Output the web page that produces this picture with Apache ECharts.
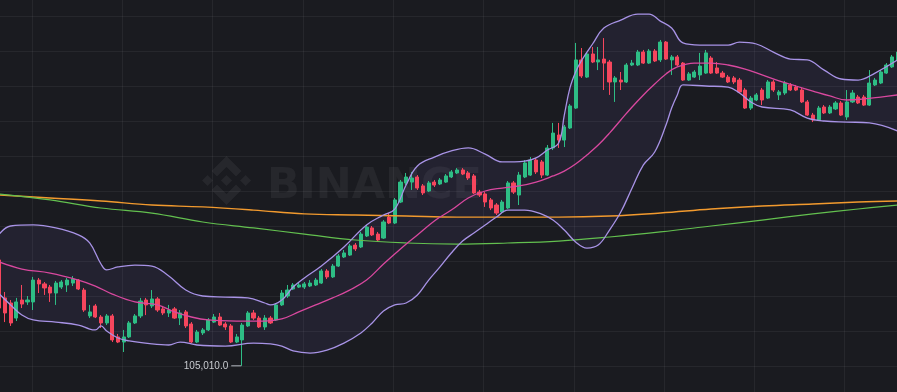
<!DOCTYPE html>
<html><head><meta charset="utf-8">
<script src="https://cdn.jsdelivr.net/npm/echarts@6/dist/echarts.min.js"></script>
<style>html,body{margin:0;padding:0;background:#1a1b20;}#c{width:897px;height:392px;}</style>
</head><body><div id="c"></div>
<script>
// Candle values (USDT)
const opens = [111060,108890,108600,107740,108770,108660,108660,109910,109690,109510,
109170,109510,109630,109740,109910,109340,107860,108430,107800,107460,
107860,106660,106370,106660,107460,107860,108770,108430,108830,108260,
108030,108260,107740,108090,107400,106370,106890,107060,107510,107800,
107400,107290,106370,106490,107290,108030,107740,107230,107740,107630,
108490,109000,109400,109510,109510,109570,109630,109740,110430,110090,
110710,111230,111340,111910,111800,112430,112890,112540,112310,113510,
113170,114370,115460,115510,115800,115290,115000,115510,115400,115510,
115800,116030,116200,116030,115860,114940,114830,114490,114200,113800,
114030,115460,114770,115800,115910,116770,116660,115910,117460,118200,
117910,118600,119740,122490,121510,122830,122370,122540,122370,121230,
121340,121230,122200,122200,122940,122310,123000,122490,123510,122490,
122660,122310,121340,121510,121630,121740,122600,122030,121740,121510,
121460,121340,120770,119740,120200,120770,120310,121230,120490,120600,
121060,120940,120770,120090,119340,119060,119800,119460,119690,120030,
119230,120090,120370,120370,119910,121060,121170,121740,122090,122490];
const closes = [108310,108030,107460,108660,108540,108770,109910,109690,109460,109170,
109740,109800,109910,109970,109400,108200,108090,107800,107460,107860,
106490,106370,106660,107460,107860,108710,108490,108830,108200,108030,
108200,107740,108030,107290,106370,106940,107060,107630,107800,107340,
107230,106370,106660,107340,108030,107740,107230,107740,107460,108490,
109170,109340,109630,109630,109690,109740,109910,110430,110090,110710,
111290,111460,111860,111690,112540,112940,112490,112200,113230,113170,
114490,115510,115800,115740,115170,114890,115460,115340,115630,115860,
116090,116200,115970,115740,114890,114770,114370,114030,113740,114370,
115460,114940,115910,116600,116770,116090,115910,117460,118310,117910,
118660,119860,122490,121570,122830,122370,122490,122310,121230,121460,
121230,122200,122310,122940,122310,123000,122430,123510,122540,122660,
122200,121340,121690,121800,122140,122890,121740,121740,121510,121230,
121230,120660,119740,120310,120490,120200,121230,120770,120660,121170,
120770,120770,120090,119340,119060,119740,119460,119800,120030,119340,
120090,120600,120030,119910,121170,121340,121800,122200,122660,122940];
const highs = [111340,109230,108770,108890,109630,109000,110090,110030,109800,109630,
109860,109910,110030,110140,109970,109460,108490,108540,107910,107970,
107970,106830,107060,107570,107970,108890,108890,109340,108940,108430,
108490,108370,108200,108200,107510,107060,107170,107740,107970,108030,
107510,107400,106830,107460,108140,108200,107860,107910,107860,108600,
109340,109630,109740,109800,109800,109910,110030,110540,110540,110830,
111400,111630,111970,112030,112660,113060,113000,112660,113340,113740,
114600,115630,116030,116090,115910,115400,115570,115630,115740,115970,
116200,116310,116310,116140,115970,115060,114940,114600,114310,114490,
115570,115570,116090,116770,116940,116890,116770,117630,118890,118890,
118770,119970,123460,123170,122940,123230,123230,123740,122490,121570,
121800,122310,122490,123060,123060,123110,123110,123630,123570,122770,
122770,122370,121800,121910,122890,123060,122710,122370,121860,121630,
121570,121460,120890,120430,120600,120890,121340,121340,120770,121290,
121170,121060,120890,120200,119460,119860,119910,119910,120140,120140,
120770,120770,120490,120490,121910,121460,121910,122310,122770,123060];
const lows = [107510,107510,107290,107570,108310,108490,108200,109170,109060,108660,
108490,109400,109230,109570,109340,108090,107740,107740,107170,107340,
106370,106310,105800,106600,107400,107740,107910,108310,108090,107910,
107800,107690,107340,107170,106310,106310,106770,107000,107460,107290,
107060,106310,106310,105010,107230,107630,107170,107060,107400,107570,
108430,108890,109340,109460,109400,109510,109570,109690,109970,110030,
110660,111170,111290,111570,111740,112370,112430,112090,112260,113110,
113110,114310,115340,115060,115060,114770,114940,115230,115340,115460,
115740,115970,115910,115630,114830,114660,114090,113910,113630,113740,
113970,114830,114200,115740,115860,115970,115740,115860,117340,117460,
117510,118540,119690,121460,121460,122310,121910,120770,120490,120090,
120770,121170,122140,122140,122260,122260,122370,122370,122490,121630,
122140,121290,121290,121460,121340,121690,121690,121690,121460,121170,
121110,120600,119690,119630,120140,119910,120260,120660,120200,120490,
120710,120710,120030,119290,118940,119000,119400,119400,119630,119290,
119060,120030,119970,119860,119860,121000,121110,121690,122030,122430];

// Indicator lines: [candle index, value]
const upperBand = [[0,112540],[2,113000],[6,113060],[10,112890],[14,112490],[16,112030],[18,110830],[19,110490],[21,110660],[24,110770],[27,110710],[30,110140],[33,109340],[36,109000],[40,108940],[44,108890],[47,108600],[48,108490],[50,108770],[52,109510],[54,110030],[57,110710],[61,111800],[65,113060],[68,113630],[70,113970],[72,115340],[74,116430],[77,116940],[80,117290],[83,117460],[86,117110],[89,116660],[93,116710],[95,116890],[97,117340],[99,117740],[100,119340],[101,120890],[102,121800],[103,122430],[105,123400],[107,124310],[110,124770],[113,125110],[115,125110],[117,124710],[119,124310],[121,123460],[124,123340],[129,123340],[131,123510],[134,123400],[137,122940],[140,122540],[143,122490],[146,121910],[149,121400],[152,121340],[155,121740],[159,122490]];
const middleBand = [[0,110940],[4,110540],[9,110310],[14,109910],[17,109570],[20,109110],[24,108660],[28,108490],[31,108090],[34,107800],[37,107630],[42,107570],[47,107570],[50,107690],[53,108090],[56,108490],[59,108890],[62,109340],[65,109910],[68,110830],[71,111690],[74,112490],[77,113290],[80,113910],[83,114600],[86,115000],[89,115170],[92,115290],[95,115510],[98,115860],[100,116140],[102,116540],[104,117060],[106,117630],[108,118310],[110,119060],[112,119800],[114,120490],[116,121110],[118,121690],[120,122090],[123,122310],[126,122310],[129,122200],[132,121970],[135,121630],[138,121290],[141,121000],[144,120710],[147,120430],[150,120200],[153,120260],[156,120370],[159,120490]];
const lowerBand = [[0,109110],[2,108490],[4,107910],[6,107630],[10,107510],[14,107340],[16,107110],[17,107060],[18,107290],[19,107000],[21,106600],[23,106430],[27,106260],[30,106200],[32,106370],[35,106200],[40,106140],[45,106310],[48,106260],[50,106140],[52,105860],[55,105740],[58,105910],[61,106310],[64,106890],[66,107460],[68,108140],[70,108490],[72,108600],[74,109060],[76,109910],[78,110660],[80,111460],[82,112140],[84,112600],[86,113060],[88,113510],[90,113910],[93,113910],[96,113680],[98,113340],[100,112770],[102,112090],[104,111740],[106,111910],[108,112770],[110,113800],[112,115170],[114,116490],[116,117230],[118,118770],[119,119740],[120,120490],[121,121060],[125,121000],[129,120940],[131,120600],[133,120090],[135,119800],[140,119630],[143,119170],[146,119000],[150,118940],[154,118890],[159,118430]];
const orangeMA = [[0,114770],[9,114600],[18,114430],[27,114200],[36,114090],[45,113910],[54,113690],[63,113630],[72,113570],[81,113510],[90,113510],[99,113510],[108,113570],[117,113740],[126,113970],[135,114140],[144,114260],[152,114370],[159,114430]];
const greenMA = [[0,114830],[9,114490],[18,114030],[27,113740],[36,113230],[45,112890],[54,112540],[63,112200],[72,112030],[81,111970],[90,112030],[99,112140],[108,112370],[117,112660],[126,113000],[135,113340],[144,113690],[152,113970],[159,114200]];
const yTicks = {min: 105000, max: 125000, step: 2000};
const categories = opens.map((_, i) => String(i + 1));

// Binance logo outline (watermark decoration), in its own 126.6-unit box
const logoParts = [
  [[38.73,53.2],[63.32,28.62],[87.92,53.22],[102.22,38.91],[63.32,0],[24.42,38.9]],
  [[0,63.31],[14.3,49],[28.61,63.31],[14.3,77.61]],
  [[38.73,73.41],[63.32,98],[87.92,73.4],[102.23,87.69],[63.32,126.6],[24.41,87.72]],
  [[98.28,63.31],[112.58,49],[126.89,63.3],[112.58,77.62]],
  [[77.83,63.3],[63.32,48.78],[48.81,63.28],[63.32,77.78]]
];

const chart = echarts.init(document.getElementById('c'));
const candleData = opens.map((o, i) => [o, closes[i], lows[i], highs[i]]);
const bandPoly = upperBand.concat(lowerBand.slice().reverse());
const gridColor = 'rgba(255,255,255,0.055)';
const wm = 'rgba(255,255,255,0.055)';
const logoScale = 49 / 126.6;

function lineS(data, color, width, z) {
  return {type: 'line', data: data, smooth: 0.4, showSymbol: false, symbol: 'none',
    lineStyle: {color: color, width: width}, z: z, clip: false, silent: true,
    xAxisIndex: 0, yAxisIndex: 0};
}

chart.setOption({
  backgroundColor: '#1a1b20',
  animation: false,
  graphic: [
    {type: 'group', left: 202, top: 156, z: 0, silent: true,
      children: logoParts.map(pts => ({type: 'polygon',
        shape: {points: pts.map(p => [p[0] * logoScale, p[1] * logoScale])}, style: {fill: wm}}))},
    {type: 'text', left: 267, top: 165, z: 0, silent: true,
      style: {text: 'BINANCE', fill: wm, font: 'bold 43px "DejaVu Sans", sans-serif'}}
  ],
  grid: [
    {left: -3.525, right: -3.475, top: 16, bottom: 26, outerBoundsMode: 'none'},
    {left: 32, right: 0, top: 0, bottom: 0, outerBoundsMode: 'none'}
  ],
  xAxis: [
    {type: 'category', gridIndex: 0, data: categories, boundaryGap: true,
      axisLine: {show: false}, axisTick: {show: false}, axisLabel: {show: false}, splitLine: {show: false}},
    {type: 'value', gridIndex: 1, min: 0, max: 9.58, interval: 1,
      axisLine: {show: false}, axisTick: {show: false}, axisLabel: {show: false},
      splitLine: {show: true, showMaxLine: false, lineStyle: {color: gridColor, width: 1}}}
  ],
  yAxis: [
    {type: 'value', gridIndex: 0, min: yTicks.min, max: yTicks.max, interval: yTicks.step,
      axisLine: {show: false}, axisTick: {show: false}, axisLabel: {show: false},
      splitLine: {show: true, lineStyle: {color: gridColor, width: 1}}},
    {type: 'value', gridIndex: 1, min: 0, max: 1, show: false, splitLine: {show: false}}
  ],
  series: [
    {type: 'custom', xAxisIndex: 0, yAxisIndex: 0, data: [0], silent: true, z: 1, clip: false,
      renderItem: function (params, api) {
        return {type: 'polygon', shape: {points: bandPoly.map(p => api.coord(p))},
          style: {fill: 'rgba(135,115,225,0.085)'}};
      }},
    {type: 'candlestick', xAxisIndex: 0, yAxisIndex: 0, data: candleData, barWidth: 3.6, z: 2, clip: false,
      itemStyle: {color: '#2ebd85', color0: '#f6465d', borderColor: '#2ebd85', borderColor0: '#f6465d', borderWidth: 1},
      markPoint: {
        symbol: 'rect', symbolSize: [10, 1], symbolOffset: [-6, 0],
        itemStyle: {color: '#b5bac2'},
        label: {show: true, position: 'left', distance: 3, color: '#c8cbd0', fontSize: 10,
          fontFamily: 'Arial, "Liberation Sans", sans-serif',
          formatter: p => Number(p.value).toLocaleString('en-US', {minimumFractionDigits: 1, maximumFractionDigits: 1})},
        data: [{type: 'min', valueDim: 'lowest'}]
      }},
    lineS(orangeMA, '#f29a2e', 1.4, 3),
    lineS(greenMA, '#63c04f', 1.2, 3),
    lineS(upperBand, '#a893e6', 1.3, 4),
    lineS(lowerBand, '#a893e6', 1.3, 4),
    lineS(middleBand, '#d9489f', 1.3, 4)
  ]
});
</script>
</body></html>
